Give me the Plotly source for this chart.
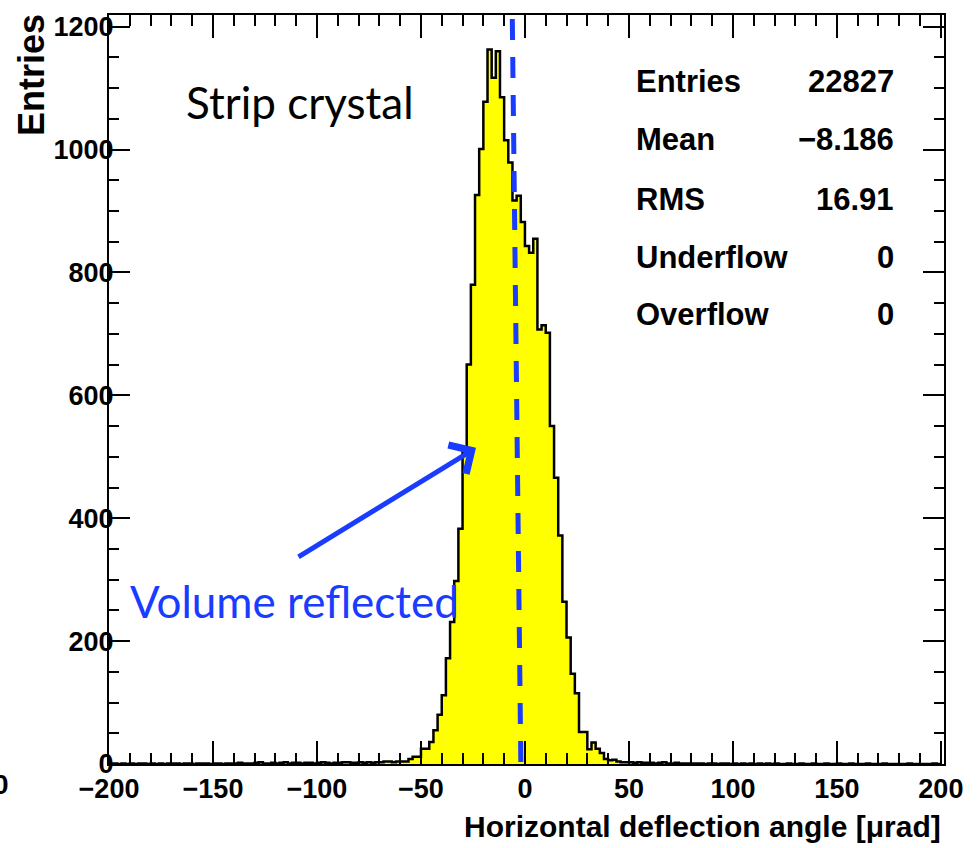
import numpy as np
import plotly.graph_objects as go

# ---------------- data ----------------
BIN_LOW = -200
BIN_WIDTH = 2

# bins -200 .. -60
left_tail = [0, 1, 0, 1, 0, 1, 0, 1, 1, 0, 1, 0, 1, 0, 1, 1, 1, 0, 1, 1,
             0, 1, 1, 1, 0, 1, 1, 0, 1, 1, 1, 2, 1, 1, 1, 2, 3, 1, 1, 2,
             1, 2, 3, 1, 2, 2, 1, 2, 2, 1, 2, 3, 2, 1, 2, 2, 3, 3, 2, 2,
             3, 2, 3, 2, 3, 3, 4, 4, 3, 4]
# bins -60 .. 44
core = [4, 4, 8, 12, 12,
        25, 25, 36, 55, 80,
        112, 172, 231, 298, 383,
        515, 650, 780, 926, 1001,
        1078, 1163, 1117, 1160, 1085,
        1015, 979, 917, 925, 882,
        843, 832, 855, 707, 714,
        702, 550, 466, 372, 264,
        206, 147, 115, 52, 52,
        24, 35, 25, 18, 8,
        6, 7]
# bins 44 .. 200
right_tail = [4, 3, 3,
              3, 2, 3, 2, 2, 2, 1, 2, 3, 1, 1, 2, 1, 1, 1,
              1, 1, 1, 0, 1, 1, 0, 1, 1, 0, 1, 0, 1, 0, 1,
              0, 1, 0, 1, 0, 1, 0, 0, 1, 0, 0, 1, 0, 0, 1,
              0, 0, 1, 0, 0, 1, 0, 0, 1, 0, 0, 0, 1, 0, 0,
              0, 1, 0, 0, 0, 0, 0, 1, 0, 0, 0, 0, 0, 1, 0]

stat_labels = ["Entries", "Mean", "RMS", "Underflow", "Overflow"]
stat_values = ["22827", "\u22128.186", "16.91", "0", "0"]

x_title = "Horizontal deflection angle [\u03bcrad]"
y_title = "Entries"
label_text = "Strip crystal"
arrow_text = "Volume reflected"

counts = left_tail + core + right_tail
edges = BIN_LOW + BIN_WIDTH * np.arange(len(counts) + 1)

# ---------------- layout geometry (pixels) ----------------
W, H = 979, 848
L, R, T, B = 109, 944, 13, 764


def px(x):
    return (x - L) / (R - L)


def py(y):
    return (B - y) / (B - T)


BOLD = "Liberation Sans, Arial, Helvetica, sans-serif"
BLUE = "#1a3cff"

fig = go.Figure()
fig.add_trace(go.Scatter(
    x=edges, y=counts + [counts[-1]],
    mode="lines", line=dict(shape="hv", color="black", width=2.5),
    fill="tozeroy", fillcolor="#ffff00", hoverinfo="skip", showlegend=False,
))

axis_common = dict(
    showgrid=False, zeroline=False, showline=True, linecolor="black",
    linewidth=2, mirror="ticks", ticks="inside", tickcolor="black",
    tickwidth=1.5,
    tickfont=dict(family=BOLD, size=27, color="black", weight="bold"),
)

fig.update_layout(
    width=W, height=H,
    margin=dict(l=L, r=W - R, t=T, b=H - B),
    paper_bgcolor="white", plot_bgcolor="white",
    xaxis=dict(range=[-200, 201.5], tick0=0, dtick=50, ticklen=23,
               minor=dict(ticks="inside", dtick=10, ticklen=11,
                          tickcolor="black", tickwidth=1.5),
               ticklabelstandoff=0, **axis_common),
    yaxis=dict(range=[0, 1219], tick0=0, dtick=200, ticklen=21,
               minor=dict(ticks="inside", dtick=50, ticklen=10,
                          tickcolor="black", tickwidth=1.5),
               ticklabelstandoff=-12, **axis_common),
)

ann = []
# axis titles
ann.append(dict(text=x_title, xref="paper", yref="paper", x=px(943), y=py(845),
                xanchor="right", yanchor="bottom", showarrow=False,
                font=dict(family=BOLD, size=30, color="black", weight="bold")))
ann.append(dict(text=y_title, xref="paper", yref="paper", x=px(31), y=py(10),
                xanchor="center", yanchor="top", textangle=-90, showarrow=False,
                font=dict(family=BOLD, size=36, color="black", weight="bold")))
# stats
row_y = [80, 138, 198, 256, 313]
for lab, val, yy in zip(stat_labels, stat_values, row_y):
    ann.append(dict(text=lab, xref="paper", yref="paper", x=px(634), y=py(yy),
                    xanchor="left", yanchor="middle", showarrow=False,
                    font=dict(family=BOLD, size=31, color="black", weight="bold")))
    ann.append(dict(text=val, xref="paper", yref="paper", x=px(896), y=py(yy),
                    xanchor="right", yanchor="middle", showarrow=False,
                    font=dict(family=BOLD, size=31, color="black", weight="bold")))
# labels
ann.append(dict(text=label_text, xref="paper", yref="paper", x=px(184), y=py(100),
                xanchor="left", yanchor="middle", showarrow=False,
                font=dict(family="Lato, Open Sans, sans-serif", size=44, color="black")))
ann.append(dict(text=arrow_text, xref="paper", yref="paper", x=px(128), y=py(601),
                xanchor="left", yanchor="middle", showarrow=False,
                font=dict(family="Lato, Open Sans, sans-serif", size=44, color=BLUE)))
# arrow
ann.append(dict(text="", xref="paper", yref="paper", x=px(476), y=py(447),
                ax=297 - 476, ay=557 - 447, axref="pixel", ayref="pixel",
                showarrow=True, arrowhead=4, arrowsize=1.3, arrowwidth=5,
                arrowcolor=BLUE))
# cropped label remnant at far left
ann.append(dict(text="0", xref="paper", yref="paper", x=px(-9), y=py(785),
                xanchor="left", yanchor="middle", showarrow=False,
                font=dict(family=BOLD, size=28, color="black", weight="bold")))
fig.update_layout(annotations=ann)

fig.add_shape(type="line", xref="paper", yref="paper",
              x0=px(512.3), y0=py(17), x1=px(521), y1=py(777),
              line=dict(color=BLUE, width=5, dash="21px,17px"), layer="above")

fig.write_html("out.html")
